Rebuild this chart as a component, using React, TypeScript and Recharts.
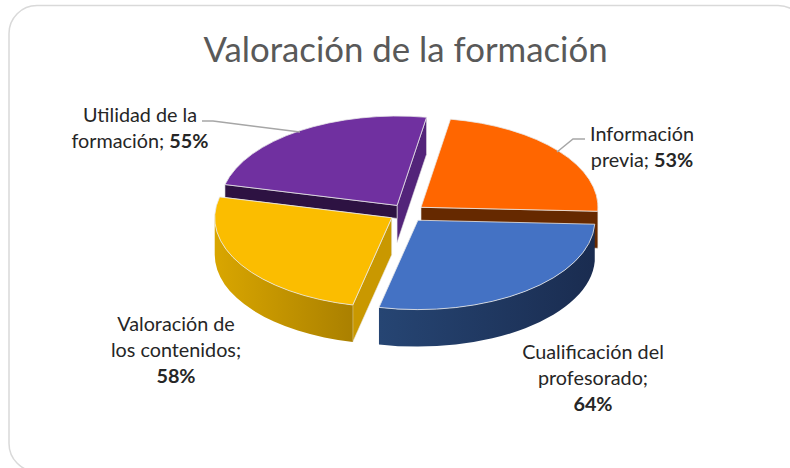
import { Pie, PieChart } from "recharts"

const categories = ["Utilidad de la formación", "Información previa", "Cualificación del profesorado", "Valoración de los contenidos"]
const values = [55, 53, 64, 58]
const topColors = ["#7030a0", "#ff6600", "#4472c4", "#fbbd00"]
const cutColors = ["#2d1242", "#662900", "#1b2e50", "#c99800"]
const sideColors = ["#53247a", "#662900", "#1b2e50", "#c99800"]
const wallStops = [
  ["#3f1c5c", "#3f1c5c"],
  ["#7a3000", "#662900"],
  ["#264573", "#1a2c50"],
  ["#d9a600", "#aa8000"],
]

const data = categories.map((name, i) => ({ name, value: values[i] }))

const SQUASH = 0.505
const DEPTH = 37
const EXPLODE = 18
const RAD = Math.PI / 180

// label text and leader line per slice, same order as the data
// the last line of each label gets the bold percentage appended
const labelLayout = [
  { x: 140, lines: ["Utilidad de la", "formación; "], ys: [122, 148], leader: "M202 121 L213 121 L300 132" },
  { x: 642, lines: ["Información", "previa; "], ys: [141, 167], leader: "M585 139 L573 139 L557 152" },
  { x: 593, lines: ["Cualificación del", "profesorado;", ""], ys: [359, 385, 411], leader: "" },
  { x: 176, lines: ["Valoración de", "los contenidos;", ""], ys: [331, 357, 383], leader: "" },
]

function Slice3D(props: any) {
  const { cx, cy, outerRadius, startAngle, endAngle, midAngle, index } = props
  const rx = outerRadius
  const ry = outerRadius * SQUASH
  const ox = cx + EXPLODE * Math.cos(midAngle * RAD)
  const oy = cy - EXPLODE * SQUASH * Math.sin(midAngle * RAD)
  const pt = (deg: number) => [ox + rx * Math.cos(deg * RAD), oy - ry * Math.sin(deg * RAD)]
  const [sx, sy] = pt(startAngle)
  const [ex, ey] = pt(endAngle)
  const large = startAngle - endAngle > 180 ? 1 : 0

  // outer wall only exists on the front half of the ellipse
  const a0 = Math.min(startAngle, 0)
  const a1 = Math.max(endAngle, -180)
  let wall = ""
  if (a0 > a1) {
    const [w0x, w0y] = pt(a0)
    const [w1x, w1y] = pt(a1)
    wall = `M${w0x} ${w0y} A${rx} ${ry} 0 0 1 ${w1x} ${w1y} L${w1x} ${w1y + DEPTH} A${rx} ${ry} 0 0 0 ${w0x} ${w0y + DEPTH} Z`
  }
  const gradId = `wall-${index}`
  const stroke = "#e8e8e8"

  return (
    <g>
      <defs>
        <linearGradient id={gradId} x1="0" y1="0" x2="1" y2="0">
          <stop offset="0%" stopColor={wallStops[index][0]} />
          <stop offset="100%" stopColor={wallStops[index][1]} />
        </linearGradient>
      </defs>
      {index === 0 && (
        <>
          <path d={`M${ox} ${oy} L${ex} ${ey} L${ex} ${ey + DEPTH} L${ox} ${oy + DEPTH} Z`} fill={sideColors[0]} stroke={stroke} strokeWidth={0.6} />
          <path d={`M${ox} ${oy} L${sx} ${sy} L${sx} ${sy + 13} L${ox} ${oy + 13} Z`} fill={cutColors[0]} stroke={stroke} strokeWidth={0.6} />
        </>
      )}
      {index === 1 && (
        <path d={`M${ox} ${oy} L${ex} ${ey} L${ex} ${ey + DEPTH} L${ox} ${oy + DEPTH} Z`} fill={cutColors[1]} stroke={stroke} strokeWidth={0.6} />
      )}
      {index === 3 && (
        <path d={`M${ox} ${oy} L${sx} ${sy} L${sx} ${sy + DEPTH} L${ox} ${oy + DEPTH} Z`} fill={cutColors[3]} stroke={stroke} strokeWidth={0.6} />
      )}
      {wall && <path d={wall} fill={`url(#${gradId})`} />}
      <path
        d={`M${ox} ${oy} L${sx} ${sy} A${rx} ${ry} 0 ${large} 1 ${ex} ${ey} Z`}
        fill={topColors[index]}
        stroke={stroke}
        strokeWidth={0.8}
      />
    </g>
  )
}

function SliceLabel(props: any) {
  const { index, value } = props
  const l = labelLayout[index]
  const last = l.lines.length - 1
  return (
    <g>
      {l.leader && <path d={l.leader} fill="none" stroke="#a6a6a6" strokeWidth={1.5} />}
      <text textAnchor="middle" fontFamily="Lato" fontSize={19.8} fill="#262626">
        {l.lines.map((t, i) => (
          <tspan key={i} x={l.x} y={l.ys[i]}>
            {t}
            {i === last && <tspan fontWeight="bold">{value}%</tspan>}
          </tspan>
        ))}
      </text>
    </g>
  )
}

export default function App() {
  return (
    <div style={{ position: "absolute", left: 0, top: 0, width: 790, height: 468, background: "#fff", overflow: "hidden" }}>
      <PieChart width={790} height={468} margin={{ top: 0, right: 0, bottom: 0, left: 0 }}>
        <rect x={9} y={5.5} width={797} height={466} rx={28} fill="#fff" stroke="#d9d9d9" strokeWidth={1.5} />
        <text x={405.5} y={62} textAnchor="middle" fontFamily="Lato" fontSize={34.8} fill="#595959">
          Valoración de la formación
        </text>
        <Pie
          data={data}
          dataKey="value"
          nameKey="name"
          cx={407}
          cy={213}
          outerRadius={177}
          startAngle={166.5}
          endAngle={-193.5}
          isAnimationActive={false}
          shape={Slice3D}
          label={SliceLabel}
          labelLine={false}
        />
      </PieChart>
    </div>
  )
}
